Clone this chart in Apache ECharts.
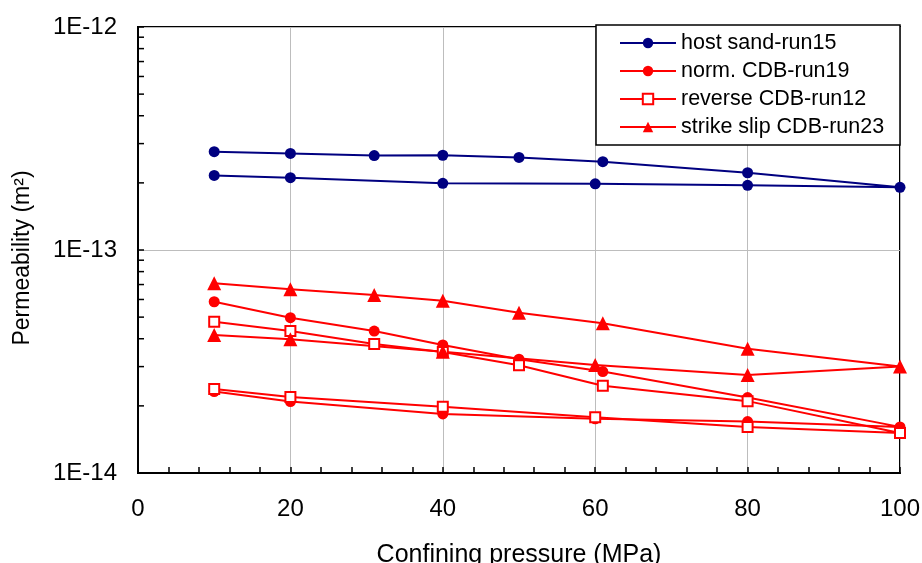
<!DOCTYPE html>
<html>
<head>
<meta charset="utf-8">
<script src="https://cdn.jsdelivr.net/npm/echarts@6/dist/echarts.min.js"></script>
<style>html,body{margin:0;padding:0;background:#fff}#c{width:922px;height:563px}</style>
</head>
<body>
<div id="c"></div>
<script>
// Confining pressure (MPa): loading then unloading path
const pressure = [10, 20, 31, 40, 50, 61, 80, 100, 80, 60, 40, 20, 10];
// Permeability values (m²)
const hostSand = [2.76e-13, 2.71e-13, 2.65e-13, 2.66e-13, 2.60e-13, 2.49e-13, 2.22e-13, 1.91e-13, 1.95e-13, 1.98e-13, 1.99e-13, 2.11e-13, 2.16e-13];
const normCDB = [5.86e-14, 4.97e-14, 4.33e-14, 3.75e-14, 3.24e-14, 2.85e-14, 2.18e-14, 1.61e-14, 1.70e-14, 1.75e-14, 1.84e-14, 2.09e-14, 2.32e-14];
const reverseCDB = [4.77e-14, 4.33e-14, 3.79e-14, 3.49e-14, 3.04e-14, 2.46e-14, 2.10e-14, 1.51e-14, 1.61e-14, 1.78e-14, 1.98e-14, 2.19e-14, 2.38e-14];
const strikeSlipCDB = [7.09e-14, 6.66e-14, 6.28e-14, 5.92e-14, 5.23e-14, 4.69e-14, 3.61e-14, 3.00e-14, 2.75e-14, 3.05e-14, 3.50e-14, 3.98e-14, 4.16e-14];
const seriesNames = ['host sand-run15', 'norm. CDB-run19', 'reverse CDB-run12', 'strike slip CDB-run23'];
// Log-axis minor tick values
const yMinorTicks = [2e-14, 3e-14, 4e-14, 5e-14, 6e-14, 7e-14, 8e-14, 9e-14, 2e-13, 3e-13, 4e-13, 5e-13, 6e-13, 7e-13, 8e-13, 9e-13];
const xTitle = 'Confining pressure (MPa)';
const yTitle = 'Permeability (m²)';

const FONT = 'Liberation Sans, Arial, sans-serif';
const pairs = (ys) => pressure.map((x, i) => [x, ys[i]]);

const chart = echarts.init(document.getElementById('c'), null, {renderer: 'canvas'});
chart.setOption({
  animation: false,
  backgroundColor: '#fff',
  textStyle: {fontFamily: FONT},
  grid: {left: 138, right: 22, top: 27, bottom: 90, outerBoundsMode: 'none', containLabel: false,
    show: true, borderColor: '#000', borderWidth: 2, backgroundColor: 'transparent'},
  graphic: [{
    type: 'rect', z: 3, silent: true,
    shape: {x: 596, y: 25, width: 304, height: 120},
    style: {fill: '#fff', stroke: '#000', lineWidth: 1.5}
  }],
  legend: {
    data: seriesNames,
    orient: 'vertical',
    left: 619, top: 32,
    padding: 0,
    itemWidth: 56, itemHeight: 13, itemGap: 6,
    selectedMode: false,
    textStyle: {fontFamily: FONT, fontSize: 21.5, color: '#000', lineHeight: 22}
  },
  xAxis: {
    type: 'value', min: 0, max: 100, interval: 20,
    name: xTitle, nameLocation: 'middle', nameGap: 70,
    nameTextStyle: {fontFamily: FONT, fontSize: 25, color: '#000'},
    axisLine: {show: true, lineStyle: {color: '#000', width: 2}},
    axisTick: {show: true, inside: true, length: 6, lineStyle: {color: '#000', width: 1.5}},
    minorTick: {show: true, splitNumber: 5, length: 6, lineStyle: {color: '#000', width: 1.5}},
    axisLabel: {fontFamily: FONT, fontSize: 24, color: '#000', margin: 24},
    splitLine: {show: true, lineStyle: {color: '#bdbdbd', width: 1}}
  },
  yAxis: {
    type: 'log', logBase: 10, min: 1e-14, max: 1e-12,
    name: yTitle, nameLocation: 'middle', nameGap: 104, nameRotate: 90,
    nameTextStyle: {fontFamily: FONT, fontSize: 23, color: '#000', padding: [0, 16, 0, 0]},
    axisLine: {show: true, lineStyle: {color: '#000', width: 2}},
    axisTick: {show: true, inside: true, length: 6, lineStyle: {color: '#000', width: 1.5}},
    axisLabel: {fontFamily: FONT, fontSize: 24, color: '#000', margin: 21,
      formatter: (v) => '1E' + Math.round(Math.log10(v))},
    splitLine: {show: true, lineStyle: {color: '#bdbdbd', width: 1}}
  },
  series: [
    {
      name: 'yMinor', type: 'custom', silent: true, z: 5,
      data: yMinorTicks.map(v => [0, v]),
      encode: {x: 0, y: 1},
      clip: false,
      renderItem: (params, api) => {
        const p = api.coord([0, api.value(1)]);
        return {type: 'line', shape: {x1: p[0], y1: p[1], x2: p[0] + 6, y2: p[1]},
          style: {stroke: '#000', lineWidth: 1.5}};
      }
    },
    {
      name: seriesNames[0], type: 'line', data: pairs(hostSand),
      symbol: 'circle', symbolSize: 11,
      lineStyle: {color: '#000080', width: 2},
      itemStyle: {color: '#000080'}
    },
    {
      name: seriesNames[1], type: 'line', data: pairs(normCDB),
      symbol: 'circle', symbolSize: 11,
      lineStyle: {color: '#ff0000', width: 2},
      itemStyle: {color: '#ff0000'}
    },
    {
      name: seriesNames[2], type: 'line', data: pairs(reverseCDB),
      symbol: 'rect', symbolSize: 10,
      lineStyle: {color: '#ff0000', width: 2},
      itemStyle: {color: '#ffffff', borderColor: '#ff0000', borderWidth: 2}
    },
    {
      name: seriesNames[3], type: 'line', data: pairs(strikeSlipCDB),
      symbol: 'triangle', symbolSize: 14,
      lineStyle: {color: '#ff0000', width: 2},
      itemStyle: {color: '#ff0000'}
    }
  ]
});
</script>
</body>
</html>
